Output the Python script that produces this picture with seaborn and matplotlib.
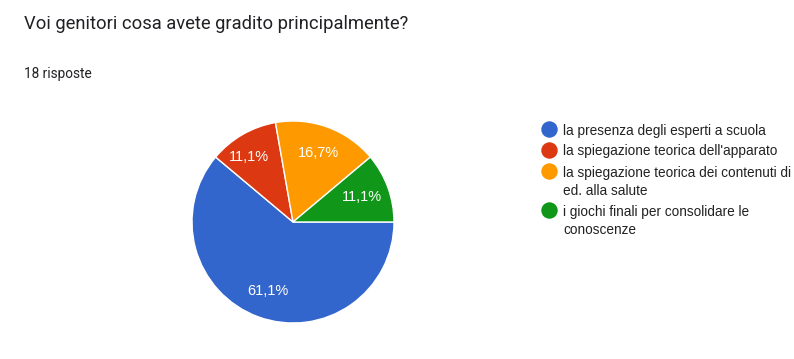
import matplotlib
matplotlib.use("Agg")
import matplotlib.pyplot as plt
import seaborn as sns

# Data
TITLE = "Voi genitori cosa avete gradito principalmente?"
SUBTITLE = "18 risposte"
categories = [
    "la presenza degli esperti a scuola",
    "la spiegazione teorica dell'apparato",
    "la spiegazione teorica dei contenuti di\ned. alla salute",
    "i giochi finali per consolidare le\nconoscenze",
]
counts = [11, 2, 3, 2]
colors = ["#3366CC", "#DC3912", "#FF9900", "#109618"]

sns.set_theme(style="white")
plt.rcParams["font.family"] = ["Liberation Sans", "DejaVu Sans"]

W, H = 794, 359
fig = plt.figure(figsize=(W / 100, H / 100), dpi=100)
fig.patch.set_facecolor("white")

fig.text(24 / W, 1 - 24 / H, TITLE, fontsize=13.2, family=["Roboto", "DejaVu Sans"],
         color="#202124", va="center", ha="left")
fig.text(24 / W, 1 - 74 / H, SUBTITLE, fontsize=9.8, family=["Roboto", "DejaVu Sans"],
         color="#202124", va="center", ha="left")

# pie axes: centre (293, 222), radius 101 px
cx, cy, r = 293, 222, 101
ax = fig.add_axes([(cx - r) / W, (H - cy - r) / H, 2 * r / W, 2 * r / H])
palette = sns.color_palette(colors)


def fmt(p):
    return f"{p:.1f}%".replace(".", ",")


wedges, texts, autotexts = ax.pie(
    counts, colors=palette, startangle=0, counterclock=False,
    autopct=fmt, pctdistance=0.73, radius=1,
    wedgeprops=dict(edgecolor="white", linewidth=1),
    textprops=dict(color="white", fontsize=10.5),
)
# the small red slice label sits a bit further out in the original
x, y = autotexts[1].get_position()
autotexts[1].set_position((x * 1.2, y * 1.02))

ax.set_xlim(-1.0, 1.0)
ax.set_ylim(-1.0, 1.0)
ax.set_aspect("equal")
ax.axis("off")

# legend drawn Google-Forms style: dot aligned with the first line of each label
lax = fig.add_axes([0, 0, 1, 1], zorder=-1)
lax.set_xlim(0, W)
lax.set_ylim(H, 0)
lax.axis("off")
LINE_H, ENTRY_H = 18.3, 21
y = 129
for label, c in zip(categories, palette):
    lax.scatter([549], [y], s=140, color=c, linewidths=0)
    for j, line in enumerate(label.split("\n")):
        lax.text(563, y + j * LINE_H, line, fontsize=9.8, color="#222222",
                 va="center_baseline", ha="left")
    y += ENTRY_H + LINE_H * label.count("\n")

fig.savefig("out.png", dpi=100)
